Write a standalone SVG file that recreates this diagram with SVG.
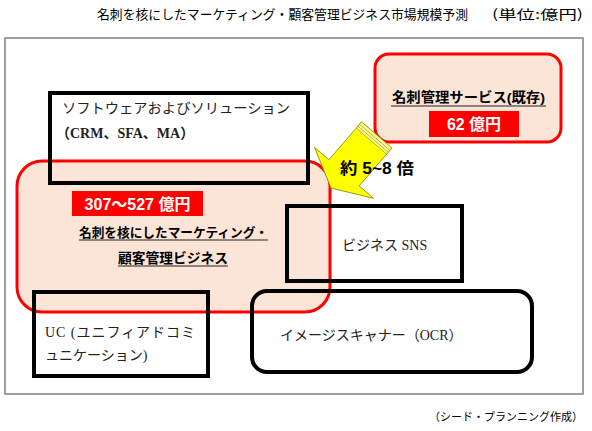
<svg xmlns="http://www.w3.org/2000/svg" width="592" height="431" viewBox="0 0 592 431">
<style>
.sans{font-family:"Noto Sans CJK JP","Liberation Sans",sans-serif;fill:#000}
.ser{font-family:"Liberation Serif","Noto Sans CJK JP",serif;fill:#222;font-size:14px}
.bold{font-family:"Liberation Sans","Noto Sans CJK JP",sans-serif;font-weight:bold}
.blk{fill:none;stroke:#000;stroke-width:4}
.redbox{fill:#FCE4D6;stroke:#FF0000;stroke-width:3}
.tag{fill:#FF0000}
.wt{fill:#fff;font-size:16px}
.ul{stroke:#222;stroke-width:1.2}
</style>
<rect width="592" height="431" fill="#fff"/>
<text class="sans" x="97" y="19" font-size="13" textLength="371" lengthAdjust="spacingAndGlyphs">名刺を核にしたマーケティング・顧客管理ビジネス市場規模予測</text>
<text class="sans" x="492" y="19" font-size="13" textLength="91" lengthAdjust="spacingAndGlyphs">(単位:億円)</text>
<rect x="5" y="38" width="578" height="356" fill="none" stroke="#7f7f7f" stroke-width="1.5"/>

<g id="core">
<rect class="redbox" x="17" y="161" width="313" height="151" rx="25"/>
<rect class="tag" x="72" y="191" width="131" height="25"/>
<text class="bold wt" x="137.5" y="210" text-anchor="middle">307～527 億円</text>
<text class="bold" x="79" y="237" font-size="13" textLength="189" lengthAdjust="spacingAndGlyphs">名刺を核にしたマーケティング・</text>
<line class="ul" x1="79" y1="240" x2="268" y2="240"/>
<text class="bold" x="118" y="263" font-size="13.5" textLength="110" lengthAdjust="spacingAndGlyphs">顧客管理ビジネス</text>
<line class="ul" x1="118" y1="266" x2="228" y2="266"/>
</g>

<g id="card">
<rect class="redbox" x="375" y="54" width="186" height="88" rx="14"/>
<text class="bold" x="392" y="102" font-size="13.5" textLength="153" lengthAdjust="spacingAndGlyphs">名刺管理サービス(既存)</text>
<line class="ul" x1="391" y1="106" x2="546" y2="106"/>
<rect class="tag" x="429" y="111" width="90" height="26"/>
<text class="bold wt" x="474" y="130" text-anchor="middle">62 億円</text>
</g>

<g id="software">
<rect class="blk" x="50" y="93" width="258" height="90"/>
<text class="ser" x="62" y="113" textLength="228" lengthAdjust="spacingAndGlyphs">ソフトウェアおよびソリューション</text>
<text class="ser" x="56" y="138" font-weight="bold">（CRM、SFA、MA）</text>
</g>

<g id="sns">
<rect class="blk" x="287" y="206" width="175" height="75"/>
<text class="ser" x="342" y="250">ビジネス SNS</text>
</g>

<g id="scanner">
<rect class="blk" x="252" y="291" width="280" height="81" rx="15" stroke-width="3.5"/>
<text class="ser" x="280" y="340">イメージスキャナー（OCR）</text>
</g>

<g id="uc">
<rect class="blk" x="34" y="292" width="174" height="84"/>
<text class="ser" x="45" y="337" textLength="150" lengthAdjust="spacing">UC (ユニフィアドコミ</text>
<text class="ser" x="45" y="360">ュニケーション)</text>
</g>

<g id="connectors">
<g transform="translate(376.7,135) rotate(130.8)">
<polygon points="0,-20 50,-20 50,-39 70,0 50,39 50,20 0,20" fill="#FFFF00" stroke="#8a8a00" stroke-width="0.8"/>
<rect x="0" y="-20" width="8" height="40" fill="#FFFF99" stroke="#8a8a00" stroke-width="0.6"/>
<line x1="3" y1="-20" x2="3" y2="20" stroke="#8a8a00" stroke-width="0.6"/>
<line x1="5.5" y1="-20" x2="5.5" y2="20" stroke="#8a8a00" stroke-width="0.6"/>
</g>
<text class="bold" x="340" y="174" font-size="16" textLength="74" lengthAdjust="spacingAndGlyphs">約 5~8 倍</text>
</g>

<text class="sans" x="429" y="421" font-size="11">（シード・プランニング作成）</text>
</svg>
